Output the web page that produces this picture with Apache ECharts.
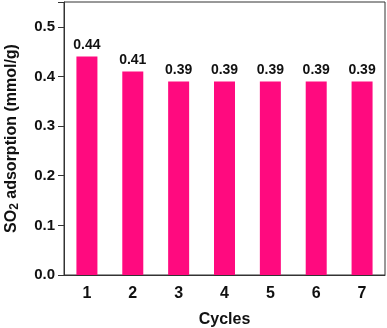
<!DOCTYPE html>
<html><head><meta charset="utf-8">
<script src="https://cdn.jsdelivr.net/npm/echarts@6/dist/echarts.min.js"></script>
<style>html,body{margin:0;padding:0;background:#fff}#c{width:387px;height:328px}</style>
</head><body><div id="c"></div>
<script>
const categories = ['1','2','3','4','5','6','7'];
const adsorption = [0.44, 0.41, 0.39, 0.39, 0.39, 0.39, 0.39];
const yTicks = [0, 0.1, 0.2, 0.3, 0.4, 0.5];

const F = '"Liberation Sans", Arial, sans-serif';
const chart = echarts.init(document.getElementById('c'));
chart.setOption({
  animation: false,
  grid: {left: 64, right: 2, top: 2, bottom: 53, containLabel: false, outerBoundsMode: 'none',
    show: true, borderColor: '#333', borderWidth: 1, backgroundColor: 'transparent'},
  xAxis: {
    type: 'category', data: categories,
    name: 'Cycles', nameLocation: 'middle', nameGap: 37,
    nameTextStyle: {fontFamily: F, fontWeight: 'bold', fontSize: 16, color: '#111'},
    axisLine: {lineStyle: {color: '#333', width: 1}},
    axisTick: {alignWithLabel: true, length: 5, lineStyle: {color: '#333'}},
    axisLabel: {fontFamily: F, fontWeight: 'bold', fontSize: 16, color: '#111', margin: 11}
  },
  yAxis: {
    type: 'value', min: 0, max: 0.55, interval: 0.1,
    name: '{a|SO}{b|2}{a| adsorption (mmol/g)}', nameLocation: 'middle', nameGap: 43,
    nameTextStyle: {fontFamily: F, fontWeight: 'bold', fontSize: 16, color: '#111',
      rich: {a: {fontFamily: F, fontWeight: 'bold', fontSize: 16, color: '#111'},
             b: {fontFamily: F, fontWeight: 'bold', fontSize: 12, color: '#111', verticalAlign: 'bottom', padding: [7,0,0,0]}}},
    axisLine: {show: true, lineStyle: {color: '#333', width: 1}},
    axisTick: {show: true, length: 6, lineStyle: {color: '#333'}},
    splitLine: {show: false},
    axisLabel: {fontFamily: F, fontWeight: 'bold', fontSize: 15, color: '#111', margin: 9,
      formatter: v => yTicks.some(t => Math.abs(t - v) < 1e-9) ? v.toFixed(1) : ''}
  },
  series: [{
    type: 'bar', data: adsorption, barWidth: 21,
    itemStyle: {color: '#FF0A7F'},
    label: {show: true, position: 'top', distance: 4, fontFamily: F, fontWeight: 'bold', fontSize: 14, color: '#111',
      formatter: p => p.value.toFixed(2)}
  }]
});
</script></body></html>
